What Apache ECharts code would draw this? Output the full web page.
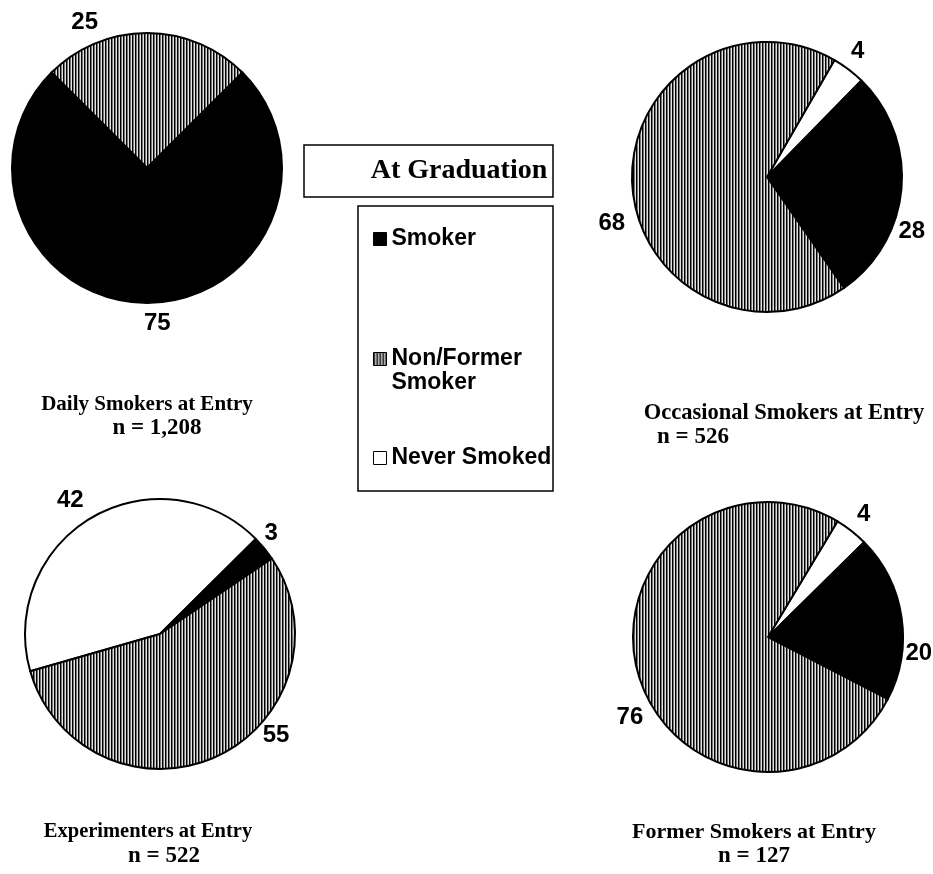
<!DOCTYPE html>
<html>
<head>
<meta charset="utf-8">
<script src="https://cdn.jsdelivr.net/npm/echarts@6/dist/echarts.min.js"></script>
<style>
  html, body { margin: 0; padding: 0; background: #fff; }
  #chart { width: 933px; height: 874px; }
</style>
</head>
<body>
<div id="chart"></div>
<script>
// categories (legend order)
const categories = ["Smoker", "Non/Former Smoker", "Never Smoked"];

// percentages at graduation, per entry group (slice order as drawn, clockwise)
const dailyNames = ["Non/Former Smoker", "Smoker"];
const dailyValues = [25, 75];
const occasionalNames = ["Never Smoked", "Smoker", "Non/Former Smoker"];
const occasionalValues = [4, 28, 68];
const experimenterNames = ["Never Smoked", "Smoker", "Non/Former Smoker"];
const experimenterValues = [42, 3, 55];
const formerNames = ["Never Smoked", "Smoker", "Non/Former Smoker"];
const formerValues = [4, 20, 76];

const groupTitles = [
  ["Daily Smokers at Entry", "n = 1,208"],
  ["Occasional Smokers at Entry", "n = 526"],
  ["Experimenters at Entry", "n = 522"],
  ["Former Smokers at Entry", "n = 127"],
];

// vertical hatch used for Non/Former Smoker
function hatch() {
  const c = document.createElement("canvas");
  c.width = 3; c.height = 3;
  const g = c.getContext("2d");
  ["#000", "#767676", "#e2e2e2"].forEach((col, i) => {
    g.fillStyle = col;
    g.fillRect(i, 0, 1, 3);
  });
  return c;
}
const fills = {
  "Smoker": "#000",
  "Non/Former Smoker": { image: hatch(), repeat: "repeat" },
  "Never Smoked": "#fff",
};

const sans = '"Liberation Sans", Arial, sans-serif';
const serif = '"Liberation Serif", "Times New Roman", serif';

// hand placement of the value labels, as in the original slide (px nudges)
const labelNudge = [
  [[-44, -7], [-8, 16]],
  [[-5, -15], [-12, 43], [2, 41]],
  [[-1, -14], [-8, -12], [39, -25]],
  [[-2, -13], [-5, 37], [14, 43]],
];

function pie(idx, names, values, center, startAngle) {
  return {
    type: "pie",
    center: center,
    radius: 135,
    startAngle: startAngle,
    clockwise: true,
    avoidLabelOverlap: false,
    silent: true,
    itemStyle: { borderColor: "#000", borderWidth: 2 },
    label: {
      show: true,
      position: "outside",
      formatter: "{c}",
      color: "#000",
      fontFamily: sans,
      fontWeight: "bold",
      fontSize: 24,
    },
    labelLine: { show: false, length: 4, length2: 0 },
    labelLayout: (p) => {
      const n = labelNudge[idx][p.dataIndex];
      return { dx: n[0], dy: n[1] };
    },
    emphasis: { disabled: true },
    data: names.map((n, i) => ({ name: n, value: values[i], itemStyle: { color: fills[n] } })),
  };
}

const legendText = { color: "#000", fontFamily: sans, fontWeight: "bold", fontSize: 23, lineHeight: 24 };
function legend(name, top, extra) {
  return Object.assign({
    orient: "vertical",
    left: 373,
    top: top,
    padding: 0,
    icon: "rect",
    itemWidth: 13,
    itemHeight: 13,
    selectedMode: false,
    itemStyle: { borderColor: "#000", borderWidth: 1 },
    textStyle: legendText,
    data: [name],
  }, extra || {});
}

const titlePos = [[147, 405, 157, 428], [784, 413, 693, 437], [148, 832, 164, 856], [754, 832, 754, 856]];
const titleSize = [21, 22.5, 20.5, 22];
const titleTexts = [];
groupTitles.forEach((t, i) => {
  const p = titlePos[i];
  titleTexts.push({ type: "text", x: p[0], y: p[1], style: { text: t[0], align: "center", verticalAlign: "middle", font: "bold " + titleSize[i] + "px " + serif, fill: "#000" } });
  titleTexts.push({ type: "text", x: p[2], y: p[3], style: { text: t[1], align: "center", verticalAlign: "middle", font: "bold 23px " + serif, fill: "#000" } });
});

const chart = echarts.init(document.getElementById("chart"), null, { renderer: "canvas" });
chart.setOption({
  backgroundColor: "#fff",
  animation: false,
  legend: [
    legend(categories[0], 227),
    // blank first line keeps the swatch level with "Non/Former"
    legend(categories[1], 323, { formatter: () => "\u00a0\nNon/Former\nSmoker" }),
    legend(categories[2], 446),
  ],
  graphic: [
    { type: "rect", shape: { x: 304, y: 145, width: 249, height: 52 }, style: { fill: "#fff", stroke: "#000", lineWidth: 1.5 } },
    { type: "text", x: 459, y: 171, style: { text: "At Graduation", align: "center", verticalAlign: "middle", font: "bold 28px " + serif, fill: "#000" } },
    { type: "rect", shape: { x: 358, y: 206, width: 195, height: 285 }, style: { fill: "none", stroke: "#000", lineWidth: 1.5 }, z: -1 },
  ].concat(titleTexts),
  series: [
    pie(0, dailyNames, dailyValues, [147, 168], 135),
    pie(1, occasionalNames, occasionalValues, [767, 177], 60),
    pie(2, experimenterNames, experimenterValues, [160, 634], 196),
    pie(3, formerNames, formerValues, [768, 637], 59),
  ],
});
</script>
</body>
</html>
